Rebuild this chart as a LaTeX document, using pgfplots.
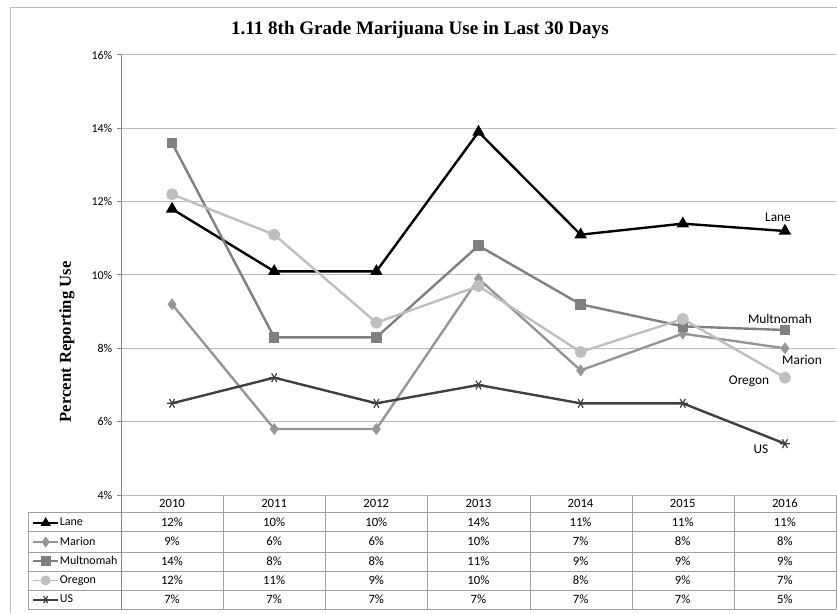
\documentclass[border=0pt]{standalone}
\usepackage{pgfplots}
\pgfplotsset{compat=1.18}
\usepackage{fontspec}
\setmainfont{Liberation Serif}
\newfontfamily\carlito{Carlito}
\usetikzlibrary{plotmarks}

\definecolor{lanec}{RGB}{0,0,0}
\definecolor{marionc}{RGB}{150,150,150}
\definecolor{multc}{RGB}{128,128,128}
\definecolor{oregc}{RGB}{191,191,191}
\definecolor{usc}{RGB}{64,64,64}
\definecolor{gridc}{RGB}{190,190,190}
\definecolor{axc}{RGB}{134,134,134}
\definecolor{tabc}{RGB}{160,160,160}

\begin{document}
\begin{tikzpicture}
\path[use as bounding box] (0,0) rectangle (627.75pt,459.75pt);
\begin{axis}[at={(90.75pt,88.5pt)}, anchor=south west, scale only axis,
  width=536.25pt, height=330pt,
  xmin=2009.5, xmax=2016.5, ymin=4, ymax=16,
  xtick=\empty, ytick={4,6,...,16},
  yticklabel={\pgfmathprintnumber{\tick}\%},
  /pgf/number format/assume math mode=true,
  ticklabel style={font=\carlito\fontsize{9}{10}\selectfont},
  axis x line=none, axis y line*=left,
  y axis line style={axc, line width=0.75pt},
  ytick style={axc, line width=0.75pt},
  tick align=outside, major tick length=3pt,
  ymajorgrids, grid style={gridc, line width=0.75pt},
  clip=false,
  title={1.11 8th Grade Marijuana Use in Last 30 Days},
  title style={at={(axis description cs:0.418,1.0386)}, anchor=center, yshift=0pt,
    font=\bfseries\fontsize{14.3}{16}\selectfont},
  ylabel={Percent Reporting Use},
  ylabel style={at={(axis description cs:-0.0755,0.348)}, anchor=center,
    font=\bfseries\fontsize{12.5}{14}\selectfont},
  legend style={at={(axis description cs:-0.1245,-0.0409)}, anchor=north west,
    draw=none, fill=none, inner sep=0pt, row sep=0pt, column sep=0.5pt,
    font=\carlito\fontsize{9}{10}\selectfont,
    nodes={inner sep=0pt, text height=9.5pt, text depth=4.9pt}},
  legend cell align=left,
  legend image code/.code={\draw[mark repeat=2,mark phase=2,#1,line width=1.4pt,mark size=3pt]
    plot coordinates {(0pt,0pt)(9.4pt,0pt)(18.8pt,0pt)};},
]
\addplot[lanec, line width=1.8pt, mark=triangle*, mark size=3.6pt, mark options={solid}]
  coordinates {(2010,11.8)(2011,10.1)(2012,10.1)(2013,13.9)(2014,11.1)(2015,11.4)(2016,11.2)};
\addlegendentry{Lane}
\addplot[marionc, line width=1.8pt, mark=diamond*, mark size=3pt, mark options={solid}]
  coordinates {(2010,9.2)(2011,5.8)(2012,5.8)(2013,9.9)(2014,7.4)(2015,8.4)(2016,8.0)};
\addlegendentry{Marion}
\addplot[multc, line width=1.8pt, mark=square*, mark size=3pt, mark options={solid}]
  coordinates {(2010,13.6)(2011,8.3)(2012,8.3)(2013,10.8)(2014,9.2)(2015,8.6)(2016,8.5)};
\addlegendentry{Multnomah}
\addplot[oregc, line width=1.8pt, mark=*, mark size=3.6pt, mark options={solid}]
  coordinates {(2010,12.2)(2011,11.1)(2012,8.7)(2013,9.7)(2014,7.9)(2015,8.8)(2016,7.2)};
\addlegendentry{Oregon}
\addplot[usc, line width=1.8pt, mark=asterisk, mark size=3.8pt, mark options={solid, rotate=90, line width=0.9pt}]
  coordinates {(2010,6.5)(2011,7.2)(2012,6.5)(2013,7.0)(2014,6.5)(2015,6.5)(2016,5.4)};
\addlegendentry{US}
\end{axis}
\begin{scope}[x=0.75pt,y=0.75pt]
\draw[gridc, line width=0.75pt] (10,0) -- (10,605) -- (837,605);
% series labels
\begin{scope}[every node/.style={font=\carlito\fontsize{10}{12}\selectfont, inner sep=0pt}]
\node at (778,396) {Lane};
\node at (780,294) {Multnomah};
\node at (802,253) {Marion};
\node at (749,232) {Oregon};
\node at (761,164) {US};
\end{scope}
% data table
\begin{scope}[tabc, line width=0.75pt]
\foreach \yy in {100,81,61,42,23,4} \draw (28,\yy) -- (836,\yy);
\draw (28,4) -- (28,100);
\draw[axc] (121,4) -- (121,118);
\foreach \xx in {223,325,427,530,632,734,836} \draw (\xx,4) -- (\xx,118);
\end{scope}
\begin{scope}[every node/.style={font=\carlito\fontsize{9.5}{10}\selectfont, inner sep=0pt, text height=6pt, text depth=0pt}]
\foreach \v [count=\i from 0] in {2010,2011,2012,2013,2014,2015,2016}
  \node at ({172+102.14*\i},109) {\v};
\foreach \v [count=\i from 0] in {12,10,10,14,11,11,11}
  \node at ({172+102.14*\i},90.5) {\v\%};
\foreach \v [count=\i from 0] in {9,6,6,10,7,8,8}
  \node at ({172+102.14*\i},71) {\v\%};
\foreach \v [count=\i from 0] in {14,8,8,11,9,9,9}
  \node at ({172+102.14*\i},51.5) {\v\%};
\foreach \v [count=\i from 0] in {12,11,9,10,8,9,7}
  \node at ({172+102.14*\i},32.5) {\v\%};
\foreach \v [count=\i from 0] in {7,7,7,7,7,7,5}
  \node at ({172+102.14*\i},13.5) {\v\%};
\end{scope}
\end{scope}
\end{tikzpicture}
\end{document}
